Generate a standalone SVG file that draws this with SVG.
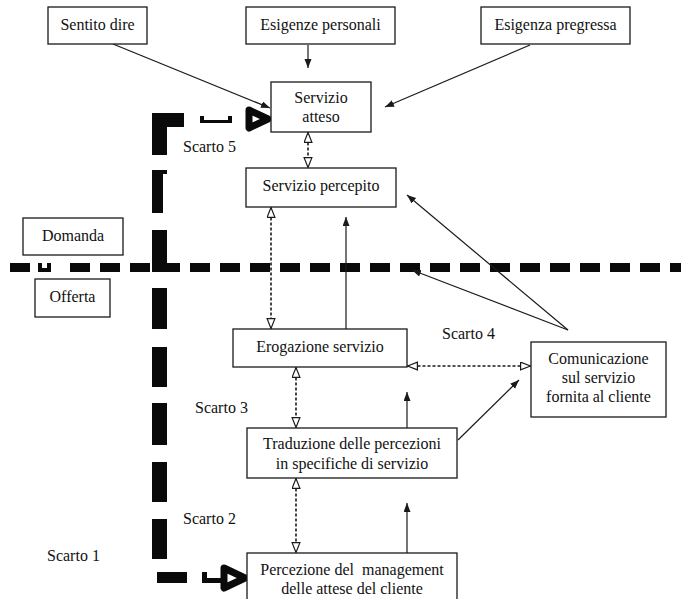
<svg xmlns="http://www.w3.org/2000/svg" width="681" height="599" viewBox="0 0 681 599">
  <style>
    .box { fill: #ffffff; stroke: #1a1a1a; stroke-width: 1.3; }
    text { font-family: "Liberation Serif", "DejaVu Serif", serif; font-size: 16px; fill: #111; }
    .lbl { text-anchor: middle; }
    .keep { white-space: pre; }
    .solid { fill: none; stroke: #1a1a1a; stroke-width: 1.2; marker-end: url(#arrowSolid); }
    .twoway { fill: none; stroke: #1a1a1a; stroke-width: 1.6; stroke-dasharray: 3 2; marker-start: url(#arrowHollow); marker-end: url(#arrowHollow); }
    .gap { fill: #0a0a0a; }
    .gapHead { fill: #ffffff; stroke: #0a0a0a; stroke-width: 7; stroke-linejoin: round; }
  </style>
  <defs>
    <marker id="arrowSolid" markerUnits="userSpaceOnUse" markerWidth="10" markerHeight="8" refX="9" refY="3.5" orient="auto">
      <path d="M0,0 L9,3.5 L0,7 Z" fill="#1a1a1a"/>
    </marker>
    <marker id="arrowHollow" markerUnits="userSpaceOnUse" markerWidth="12" markerHeight="10" refX="10.5" refY="4.5" orient="auto-start-reverse">
      <path d="M0.6,0.6 L10.5,4.5 L0.6,8.4 Z" fill="#ffffff" stroke="#1a1a1a" stroke-width="1.2" stroke-dasharray="none"/>
    </marker>
  </defs>

  <rect width="681" height="599" fill="#ffffff"/>

  <!-- thick dashed demand / supply boundary and gap path -->
  <g id="gaps">
    <!-- horizontal boundary -->
    <rect class="gap" x="10" y="263" width="20" height="9"/>
    <path class="gap" d="M38,263 h4 v5 h5 v-5 h4 v9 h-13 Z"/>
    <line x1="70" y1="267.5" x2="681" y2="267.5" stroke="#0a0a0a" stroke-width="9" stroke-dasharray="20 10"/>
    <!-- vertical gap line -->
    <path class="gap" d="M152,113 H184 V127 H167 V155 H152 Z"/>
    <path class="gap" d="M152,170 H167 V174 H163 V213 H152 Z"/>
    <rect class="gap" x="152" y="230" width="15" height="42"/>
    <rect class="gap" x="152" y="288" width="15" height="41"/>
    <rect class="gap" x="152" y="347" width="15" height="40"/>
    <rect class="gap" x="152" y="403" width="15" height="42"/>
    <rect class="gap" x="152" y="462" width="15" height="40"/>
    <rect class="gap" x="152" y="519" width="15" height="40"/>
    <!-- top run into Servizio atteso -->
    <path class="gap" d="M200,116 h4 v4 h24 v-4 h4 v7 h-32 Z"/>
    <polygon class="gapHead" points="249,110 268,119 249,128"/>
    <!-- bottom run into Percezione del management -->
    <rect class="gap" x="157" y="572" width="30" height="11"/>
    <path class="gap" d="M202,572 h5 v6 h16 v5 h-21 Z"/>
    <polygon class="gapHead" points="224,568 245,578 224,588"/>
  </g>

  <!-- connectors -->
  <g id="connectors">
    <path class="solid" d="M113,44 L270,108"/>
    <path class="solid" d="M308,45 L308,68"/>
    <path class="solid" d="M530,45 L385,107"/>
    <path class="twoway" d="M308,132.5 L308,167.5"/>
    <path class="twoway" d="M271,207.5 L271,328.5"/>
    <path class="solid" d="M346,329 L346,217"/>
    <path class="solid" d="M568,330 L407,195"/>
    <path class="solid" d="M568,330 L412,270"/>
    <path class="twoway" d="M407.5,366 L530.5,366"/>
    <path class="twoway" d="M296,367.5 L296,427.5"/>
    <path class="solid" d="M407,428 L407,392"/>
    <path class="solid" d="M458,440 L519,380"/>
    <path class="twoway" d="M296,478.5 L296,552.5"/>
    <path class="solid" d="M407,553 L407,503"/>
  </g>

  <!-- nodes -->
  <g id="sentito-dire">
    <rect class="box" x="48" y="7" width="99" height="37"/>
    <text class="lbl" x="97.5" y="30">Sentito dire</text>
  </g>
  <g id="esigenze-personali">
    <rect class="box" x="246" y="7" width="149" height="37"/>
    <text class="lbl" x="320.5" y="30">Esigenze personali</text>
  </g>
  <g id="esigenza-pregressa">
    <rect class="box" x="481" y="7" width="149" height="37"/>
    <text class="lbl" x="555.5" y="30">Esigenza pregressa</text>
  </g>
  <g id="servizio-atteso">
    <rect class="box" x="271" y="82" width="100" height="50"/>
    <text class="lbl" x="321" y="103">Servizio</text>
    <text class="lbl" x="321" y="122">atteso</text>
  </g>
  <g id="servizio-percepito">
    <rect class="box" x="246" y="168" width="150" height="39"/>
    <text class="lbl" x="321" y="191">Servizio percepito</text>
  </g>
  <g id="domanda">
    <rect class="box" x="23" y="218" width="100" height="37"/>
    <text class="lbl" x="73" y="241">Domanda</text>
  </g>
  <g id="offerta">
    <rect class="box" x="35" y="279" width="75" height="38"/>
    <text class="lbl" x="72.5" y="302">Offerta</text>
  </g>
  <g id="erogazione-servizio">
    <rect class="box" x="233" y="329" width="174" height="38"/>
    <text class="lbl" x="320" y="352">Erogazione servizio</text>
  </g>
  <g id="comunicazione">
    <rect class="box" x="531" y="342" width="135" height="75"/>
    <text class="lbl" x="598.5" y="364">Comunicazione</text>
    <text class="lbl" x="598.5" y="383">sul servizio</text>
    <text class="lbl" x="598.5" y="402">fornita al cliente</text>
  </g>
  <g id="traduzione">
    <rect class="box" x="247" y="428" width="210" height="50"/>
    <text class="lbl" x="352" y="449">Traduzione delle percezioni</text>
    <text class="lbl" x="352" y="469">in specifiche di servizio</text>
  </g>
  <g id="percezione-management">
    <rect class="box" x="247" y="553" width="210" height="52"/>
    <text class="lbl keep" x="352" y="575">Percezione del  management</text>
    <text class="lbl" x="352" y="594">delle attese del cliente</text>
  </g>

  <!-- gap labels -->
  <g id="scarti">
    <text x="183" y="152">Scarto 5</text>
    <text x="442" y="339">Scarto 4</text>
    <text x="195" y="413">Scarto 3</text>
    <text x="183" y="524">Scarto 2</text>
    <text x="47" y="561">Scarto 1</text>
  </g>
</svg>
